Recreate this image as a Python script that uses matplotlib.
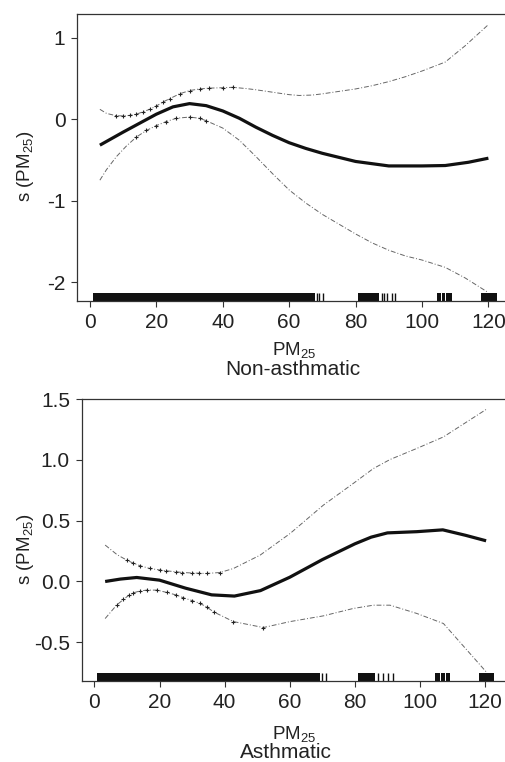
import numpy as np
import matplotlib
matplotlib.use("Agg")
import matplotlib.pyplot as plt

plt.rcParams['font.family'] = ['Liberation Sans', 'DejaVu Sans']
plt.rcParams['mathtext.fontset'] = 'custom'
plt.rcParams['mathtext.rm'] = 'Liberation Sans'
plt.rcParams['mathtext.it'] = 'Liberation Sans:italic'

# ---------------- Data: Non-asthmatic ----------------
na_fit_x = [3, 10, 15, 20, 25, 30, 35, 40, 45, 50, 55, 60, 65, 70, 75, 80, 90, 100, 107, 114, 120]
na_fit_y = [-0.32, -0.16, -0.05, 0.06, 0.15, 0.19, 0.165, 0.10, 0.01, -0.10, -0.20, -0.29, -0.36,
            -0.42, -0.47, -0.52, -0.575, -0.575, -0.57, -0.53, -0.48]
na_up_x = [3, 5, 8, 10, 12, 14, 16, 18, 20, 22, 24, 27, 30, 33, 36, 40, 43, 47, 50, 55, 60, 63,
           67, 70, 75, 80, 85, 90, 95, 100, 107, 113, 120]
na_up_y = [0.12, 0.07, 0.04, 0.04, 0.045, 0.06, 0.09, 0.12, 0.16, 0.21, 0.25, 0.31, 0.35, 0.37,
           0.38, 0.385, 0.39, 0.375, 0.36, 0.33, 0.30, 0.29, 0.295, 0.31, 0.34, 0.37, 0.41, 0.46,
           0.52, 0.59, 0.70, 0.90, 1.16]
na_lo_x = [3, 5, 8, 11, 14, 17, 20, 23, 26, 30, 33, 35, 40, 45, 50, 55, 60, 65, 70, 75, 80, 85,
           90, 95, 100, 107, 113, 120]
na_lo_y = [-0.75, -0.62, -0.46, -0.33, -0.22, -0.14, -0.08, -0.03, 0.01, 0.025, 0.01, -0.02,
           -0.11, -0.26, -0.46, -0.67, -0.87, -1.03, -1.17, -1.29, -1.41, -1.52, -1.61, -1.68,
           -1.73, -1.82, -1.95, -2.13]
na_rug_blocks = [(0.8, 67.8), (80.6, 87.0), (104.4, 105.6), (106.0, 107.0), (107.3, 108.9),
                 (117.8, 122.5)]
na_rug_ticks = [68.3, 69.1, 70.3, 87.9, 88.6, 89.5, 90.9, 91.9]

# ---------------- Data: Asthmatic ----------------
as_fit_x = [3.3, 8, 13, 20, 28, 36, 43, 51, 60, 70, 80, 85, 90, 99, 107, 114, 120.3]
as_fit_y = [0.0, 0.02, 0.033, 0.011, -0.055, -0.11, -0.12, -0.075, 0.035, 0.18, 0.31, 0.365,
            0.40, 0.41, 0.425, 0.38, 0.335]
as_up_x = [3.3, 7, 10, 12, 14, 17, 20, 22, 25, 27, 30, 32, 34.5, 38.6, 42.7, 50.9, 60.1, 70.3,
           79.5, 85.7, 90.8, 99, 107.2, 120.3]
as_up_y = [0.30, 0.22, 0.175, 0.15, 0.13, 0.107, 0.095, 0.088, 0.08, 0.074, 0.07, 0.068, 0.066,
           0.074, 0.107, 0.217, 0.395, 0.628, 0.807, 0.93, 1.004, 1.095, 1.19, 1.416]
as_lo_x = [3.3, 6.8, 8.9, 10.5, 12, 14, 16.1, 19.2, 22.2, 25, 27.3, 30, 32.4, 34.5, 36.6, 42.7,
           51.9, 60.1, 70.3, 79.5, 85.7, 90.8, 99, 107.2, 120.3]
as_lo_y = [-0.305, -0.195, -0.148, -0.115, -0.093, -0.078, -0.071, -0.071, -0.09, -0.11, -0.134,
           -0.157, -0.18, -0.21, -0.25, -0.33, -0.379, -0.33, -0.283, -0.222, -0.195, -0.195,
           -0.263, -0.346, -0.743]
as_rug_blocks = [(0.7, 69.3), (80.9, 86.2), (104.6, 106.0), (106.4, 107.6), (107.9, 109.3),
                 (118.0, 122.8)]
as_rug_ticks = [69.8, 71.0, 87.2, 88.6, 90.3, 91.8]

W, H = 505, 762
fig = plt.figure(figsize=(W / 100, H / 100), dpi=100)
fig.patch.set_facecolor('white')

ci_style = dict(color='#666666', lw=0.7, linestyle=(0, (5, 2, 1, 2)))
mk_style = dict(marker='+', ms=3.5, mew=0.8, mec='#222222')


def panel(ax, fit_x, fit_y, up_x, up_y, lo_x, lo_y, blocks, ticks, up_rng, lo_rng, rug_h,
          xlim, ylim, yticks, yticklabels):
    up_x = np.asarray(up_x); lo_x = np.asarray(lo_x)
    ax.plot(up_x, up_y, markevery=list((up_x >= up_rng[0]) & (up_x <= up_rng[1])),
            **ci_style, **mk_style)
    ax.plot(lo_x, lo_y, markevery=list((lo_x >= lo_rng[0]) & (lo_x <= lo_rng[1])),
            **ci_style, **mk_style)
    ax.plot(fit_x, fit_y, color='#111111', lw=2.3, solid_capstyle='butt')
    for a, b in blocks:
        ax.axvspan(a, b, ymin=0, ymax=rug_h, color='#111111', lw=0)
    ax.vlines(ticks, 0, rug_h, transform=ax.get_xaxis_transform(), color='#111111', lw=1.0)
    ax.set_xlim(*xlim)
    ax.set_ylim(*ylim)
    ax.set_xticks([0, 20, 40, 60, 80, 100, 120])
    ax.set_xticklabels(['0', '20', '40', '60', '80', '100', '120'])
    ax.set_yticks(yticks)
    ax.set_yticklabels(yticklabels)
    ax.spines['right'].set_visible(False)
    for s in ['left', 'top', 'bottom']:
        ax.spines[s].set_linewidth(0.9)
        ax.spines[s].set_color('#333333')
    ax.tick_params(direction='out', length=4.5, width=0.8, color='#333333',
                   labelsize=15, pad=4, labelcolor='#222222')


ax1 = fig.add_axes([77.3 / W, 1 - 301 / H, 1 - 77.3 / W, (301 - 14) / H])
panel(ax1, na_fit_x, na_fit_y, na_up_x, na_up_y, na_lo_x, na_lo_y, na_rug_blocks, na_rug_ticks,
      (8, 43), (14, 35), 0.028, (-3.8, 125.0), (-2.233, 1.29), [-2, -1, 0, 1],
      ['-2', '-1', '0', '1'])

ax2 = fig.add_axes([81.7 / W, 1 - 681 / H, 1 - 81.7 / W, (681 - 399) / H])
panel(ax2, as_fit_x, as_fit_y, as_up_x, as_up_y, as_lo_x, as_lo_y, as_rug_blocks, as_rug_ticks,
      (10, 39), (6, 52), 0.027, (-3.9, 126.1), (-0.819, 1.502), [-0.5, 0.0, 0.5, 1.0, 1.5],
      ['-0.5', '0.0', '0.5', '1.0', '1.5'])

ylab = r's (PM$_{\mathregular{25}}$)'
xlab = r'PM$_{\mathregular{25}}$'
tc = '#222222'
fig.text(25 / W, 1 - 166 / H, ylab, rotation=90, ha='center', va='center', fontsize=13.5, color=tc)
fig.text(25 / W, 1 - 549 / H, ylab, rotation=90, ha='center', va='center', fontsize=13.5, color=tc)
fig.text(294 / W, 1 - 355 / H, xlab, ha='center', va='baseline', fontsize=13.5, color=tc)
fig.text(292.5 / W, 1 - 375 / H, 'Non-asthmatic', ha='center', va='baseline', fontsize=15, color=tc)
fig.text(294 / W, 1 - 739 / H, xlab, ha='center', va='baseline', fontsize=13.5, color=tc)
fig.text(285.8 / W, 1 - 758 / H, 'Asthmatic', ha='center', va='baseline', fontsize=15, color=tc)

fig.savefig('out.png', dpi=100, facecolor='white')
